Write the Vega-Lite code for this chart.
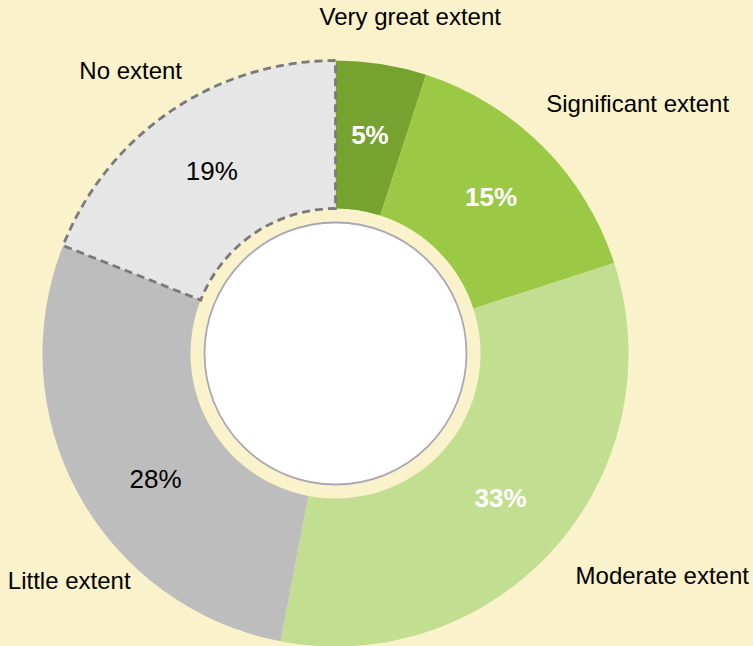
{
  "$schema": "https://vega.github.io/schema/vega-lite/v6.json",
  "autosize": "none",
  "width": 671,
  "height": 707,
  "padding": {"left": 0, "top": 0, "right": 82, "bottom": 0},
  "background": "#FAF2CA",
  "config": {"view": {"stroke": null}},
  "datasets": {
    "shares": [
      {"cat": "Very great extent", "value": 5, "label": "5%"},
      {"cat": "Significant extent", "value": 15, "label": "15%"},
      {"cat": "Moderate extent", "value": 33, "label": "33%"},
      {"cat": "Little extent", "value": 28, "label": "28%"},
      {"cat": "No extent", "value": 19, "label": "19%"}
    ]
  },
  "layer": [
    {
      "data": {"name": "shares"},
      "transform": [{"window": [{"op": "row_number", "as": "rank"}]}],
      "mark": {"type": "arc", "radius": 293, "radius2": 145, "strokeDash": [8, 5]},
      "encoding": {
        "theta": {"field": "value", "type": "quantitative", "stack": true, "scale": {"domain": [0, 100]}},
        "order": {"field": "rank", "type": "quantitative"},
        "color": {
          "field": "cat",
          "type": "nominal",
          "legend": null,
          "scale": {
            "domain": ["Very great extent", "Significant extent", "Moderate extent", "Little extent", "No extent"],
            "range": ["#76A32F", "#9BC946", "#C2DF91", "#BDBDBD", "#E6E6E6"]
          }
        },
        "stroke": {"condition": {"test": "datum.cat === 'No extent'", "value": "#7A7A7A"}, "value": null},
        "strokeWidth": {"condition": {"test": "datum.cat === 'No extent'", "value": 2.8}, "value": 0}
      }
    },
    {
      "data": {"values": [{"c": "hole"}]},
      "mark": {"type": "arc", "radius": 131, "theta": 0, "theta2": 6.2832, "fill": "#FFFFFF", "stroke": "#ABA6B3", "strokeWidth": 1.8},
      "encoding": {}
    },
    {
      "data": {"name": "shares"},
      "transform": [{"window": [{"op": "row_number", "as": "rank"}]}],
      "mark": {
        "type": "text",
        "radius": 220,
        "font": "Liberation Sans",
        "fontSize": 26,
        "align": "center",
        "baseline": "middle",
        "thetaOffset": {"expr": "datum.cat === 'Little extent' ? -0.11 : 0"},
        "fontWeight": {"expr": "datum.rank <= 3 ? 'bold' : 'normal'"},
        "fill": {"expr": "datum.rank <= 3 ? '#FFFFFF' : '#000000'"}
      },
      "encoding": {
        "theta": {"field": "value", "type": "quantitative", "stack": true},
        "order": {"field": "rank", "type": "quantitative"},
        "text": {"field": "label", "type": "nominal"}
      }
    },
    {
      "data": {"name": "shares"},
      "transform": [{"window": [{"op": "row_number", "as": "rank"}]}],
      "mark": {
        "type": "text",
        "radius": 320,
        "font": "Liberation Sans",
        "fontSize": 24,
        "fill": "#000000",
        "thetaOffset": {"expr": "datum.cat === 'Little extent' ? -0.31 : (datum.cat === 'Very great extent' ? 0.07 : (datum.cat === 'No extent' ? 0.079 : (datum.cat === 'Significant extent' ? -0.058 : 0)))"},
        "radiusOffset": {"expr": "datum.cat === 'Little extent' ? -22 : (datum.cat === 'Very great extent' ? 12 : (datum.cat === 'No extent' ? -10 : (datum.cat === 'Significant extent' ? -3 : 0)))"},
        "align": {"expr": "sin(PI * (datum.value_start + datum.value_end) / 100) > 0.3 ? 'left' : (sin(PI * (datum.value_start + datum.value_end) / 100) < -0.3 ? 'right' : 'center')"},
        "baseline": {"expr": "cos(PI * (datum.value_start + datum.value_end) / 100) > 0.3 ? 'bottom' : (cos(PI * (datum.value_start + datum.value_end) / 100) < -0.3 ? 'top' : 'middle')"}
      },
      "encoding": {
        "theta": {"field": "value", "type": "quantitative", "stack": true},
        "order": {"field": "rank", "type": "quantitative"},
        "text": {"field": "cat", "type": "nominal"}
      }
    }
  ]
}
